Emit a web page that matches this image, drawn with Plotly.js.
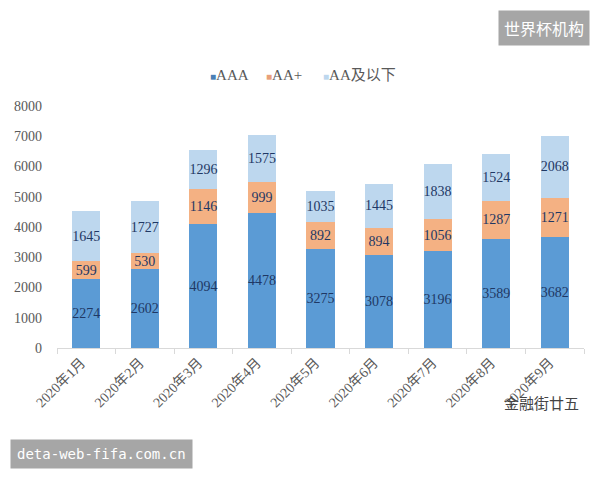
<!DOCTYPE html>
<html>
<head>
<meta charset="utf-8">
<script src="https://cdn.plot.ly/plotly-3.0.1.min.js"></script>
<style>html,body{margin:0;padding:0;background:#fff;}#chart{width:600px;height:480px;}</style>
</head>
<body>
<div id="chart"></div>
<script>
const months = ["2020年1月","2020年2月","2020年3月","2020年4月","2020年5月","2020年6月","2020年7月","2020年8月","2020年9月"];
const aaa = [2274, 2602, 4094, 4478, 3275, 3078, 3196, 3589, 3682];
const aaPlus = [599, 530, 1146, 999, 892, 894, 1056, 1287, 1271];
const aaBelow = [1645, 1727, 1296, 1575, 1035, 1445, 1838, 1524, 2068];
const seriesNames = ["AAA", "AA+", "AA及以下"];

const serif = 'Liberation Serif, Noto Sans CJK SC, serif';
const colors = ["#5b9bd5", "#f4b183", "#bdd7ee"];
const vals = [aaa, aaPlus, aaBelow];

const traces = vals.map((v, i) => ({
  type: 'bar',
  name: seriesNames[i],
  x: months,
  y: v,
  text: v.map(String),
  textposition: 'inside',
  insidetextanchor: 'middle',
  textangle: 0,
  constraintext: 'none',
  textfont: {family: serif, size: 14, color: '#1f3864'},
  marker: {color: colors[i], line: {width: 0}},
  hoverinfo: 'none'
}));

const pw = 600 - 57 - 16, ph = 480 - 106 - 132;
function px(x){ return (x - 57) / pw; }
function py(y){ return (348 - y) / ph; }

const legendX = [208, 264, 321];
const legendMarker = ["#4a7fb5", "#e9a07a", "#bdd7ee"];
const annotations = seriesNames.map((n, i) => ({
  text: '<span style="color:' + legendMarker[i] + ';font-size:10px">■</span>' + n,
  xref: 'paper', yref: 'paper', x: px(legendX[i]), y: py(75),
  xanchor: 'left', yanchor: 'middle', showarrow: false,
  font: {family: serif, size: 15, color: '#595959'}
}));
annotations.push(
  {text: '世界杯机构', xref: 'paper', yref: 'paper', x: px(590), y: py(10), showarrow: false,
   xanchor: 'right', yanchor: 'top',
   font: {family: 'Noto Sans CJK SC, sans-serif', size: 16, color: '#fff'},
   bgcolor: '#a6a6a6', borderpad: 5},
  {text: '金融街廿五', xref: 'paper', yref: 'paper', x: px(581), y: py(402), showarrow: false,
   xanchor: 'right', yanchor: 'middle',
   font: {family: 'Noto Sans CJK SC, sans-serif', size: 15, color: '#444'}},
  {text: 'deta-web-fifa.com.cn', xref: 'paper', yref: 'paper', x: px(10), y: py(469), showarrow: false,
   xanchor: 'left', yanchor: 'bottom',
   font: {family: 'DejaVu Sans Mono, monospace', size: 14, color: '#fff'},
   bgcolor: '#a6a6a6', borderpad: 6}
);

const layout = {
  width: 600, height: 480,
  margin: {l: 57, r: 16, t: 106, b: 132},
  barmode: 'stack',
  bargap: 0.52,
  paper_bgcolor: '#fff',
  plot_bgcolor: '#fff',
  showlegend: false,
  xaxis: {
    type: 'category',
    tickangle: -45,
    tickfont: {family: serif, size: 14, color: '#595959'},
    showline: true, linecolor: '#d9d9d9', linewidth: 1,
    ticks: 'outside', tickson: 'boundaries', ticklen: 5, tickcolor: '#d9d9d9',
    showgrid: false, zeroline: false,
    ticklabelshift: -5
  },
  yaxis: {
    range: [0, 8000],
    dtick: 1000,
    tickfont: {family: serif, size: 14, color: '#595959'},
    showgrid: false, zeroline: false, showline: false, ticks: '',
    ticklabelstandoff: 14
  },
  annotations: annotations
};

Plotly.newPlot('chart', traces, layout, {displayModeBar: false, staticPlot: true});
</script>
</body>
</html>
